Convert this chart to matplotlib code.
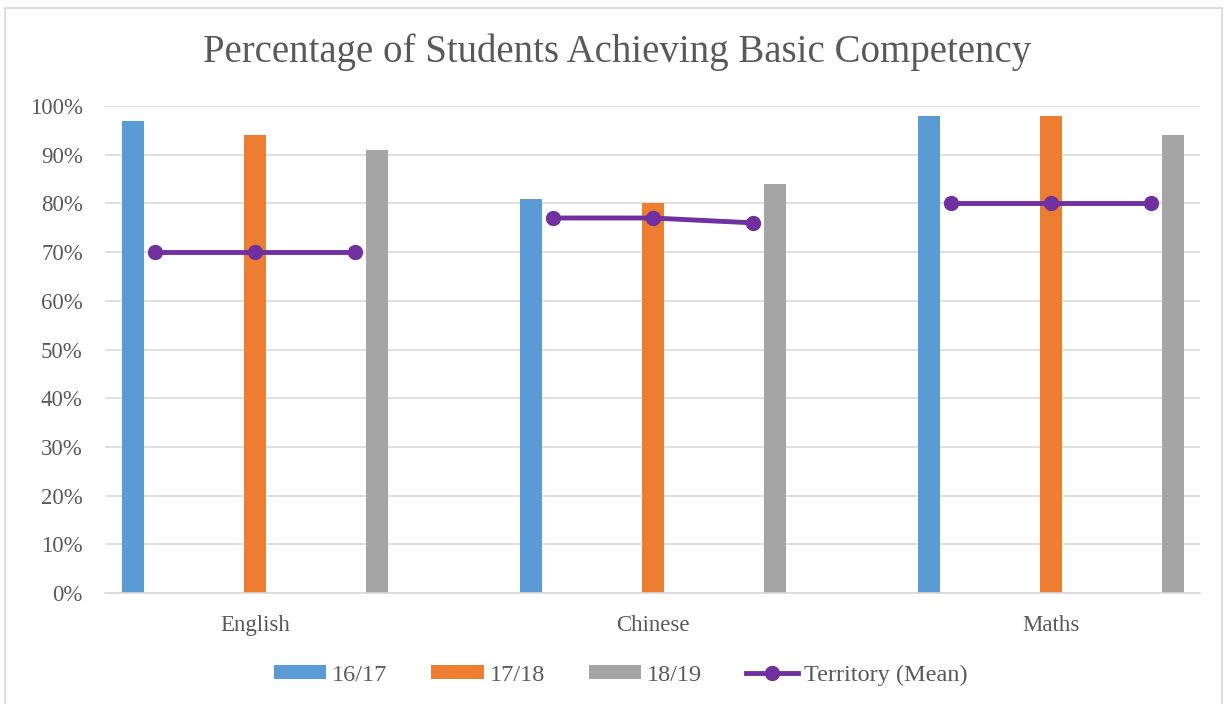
import matplotlib.pyplot as plt
import numpy as np
from matplotlib.patches import Rectangle

categories = ["English", "Chinese", "Maths"]
y1617 = [0.97, 0.81, 0.98]
y1718 = [0.94, 0.80, 0.98]
y1819 = [0.91, 0.84, 0.94]
territory = [[0.70, 0.70, 0.70], [0.77, 0.77, 0.76], [0.80, 0.80, 0.80]]
yticks = [0, 0.1, 0.2, 0.3, 0.4, 0.5, 0.6, 0.7, 0.8, 0.9, 1.0]

plt.rcParams['font.family'] = ['Liberation Serif', 'DejaVu Serif']
txt = "#595959"

fig = plt.figure(figsize=(12.27, 7.04), dpi=100)
fig.patches.append(Rectangle((5/1227, -0.01), 1217/1227, 1 - 8/704 + 0.01,
                             transform=fig.transFigure, fill=False,
                             edgecolor="#D9D9D9", linewidth=1.2))
ax = fig.add_axes([105/1227, 1 - 593/704, 1095/1227, (593 - 106)/704])

x = np.arange(len(categories))
w = 0.056
off = 0.307
b1 = ax.bar(x - off, y1617, w, color="#5B9BD5", label="16/17", zorder=2)
b2 = ax.bar(x, y1718, w, color="#ED7D31", label="17/18", zorder=2)
b3 = ax.bar(x + off, y1819, w, color="#A5A5A5", label="18/19", zorder=2)

ln = None
for i, vals in enumerate(territory):
    l, = ax.plot([i - 0.251, i, i + 0.251], vals, color="#7030A0", linewidth=3.5,
                 marker="o", markersize=10, zorder=3)
    if ln is None:
        ln = l

ax.set_xlim(-0.377, 2.374)
ax.set_ylim(0, 1)
ax.set_yticks(yticks)
ax.set_yticklabels([f"{int(round(t*100))}%" for t in yticks])
ax.set_xticks(x)
ax.set_xticklabels(categories)
ax.tick_params(axis="both", length=0, labelsize=16.5, colors=txt)
ax.tick_params(axis="x", pad=16)
ax.tick_params(axis="y", pad=16)
ax.grid(axis="y", color="#D9D9D9", linewidth=1.2, zorder=0)
for s in ["top", "right", "left"]:
    ax.spines[s].set_visible(False)
ax.spines["bottom"].set_color("#D9D9D9")
ax.spines["bottom"].set_linewidth(1.2)

fig.text(617/1227, 1 - 52/704, "Percentage of Students Achieving Basic Competency",
         ha="center", va="center", fontsize=28, color=txt)

leg = fig.legend([b1, b2, b3, ln], ["16/17", "17/18", "18/19", "Territory (Mean)"],
                 loc="center", bbox_to_anchor=(621/1227, 1 - 675/704), ncol=4,
                 frameon=False, fontsize=17.5, handlelength=2.15, handleheight=0.5,
                 columnspacing=1.8, handletextpad=0.25)
for t in leg.get_texts():
    t.set_color(txt)

fig.savefig("out.png", dpi=100)
